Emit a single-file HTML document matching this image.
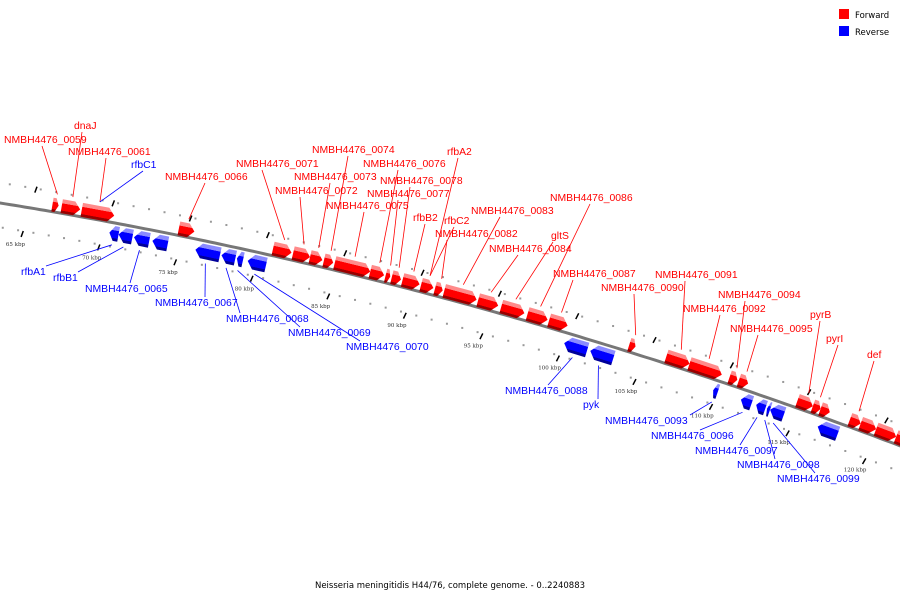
<!DOCTYPE html>
<html><head><meta charset="utf-8"><style>
html,body{margin:0;padding:0;background:#fff;}
svg{display:block;}
.lbl{font-family:"Liberation Sans",sans-serif;font-size:10.4px;}
</style></head><body>
<svg id="c" width="900" height="600" viewBox="0 0 900 600" xmlns="http://www.w3.org/2000/svg">
<defs id="defs"></defs>
<g id="ticks"></g>
<g id="backbone"></g>
<g id="leaders"></g>
<g id="genes"></g>
<g id="labels"></g>
<g>
<rect x="839" y="9" width="10" height="10" fill="#f00"/>
<text x="855" y="18" font-family="DejaVu Sans,sans-serif" font-size="8.5">Forward</text>
<rect x="839" y="26" width="10" height="10" fill="#00f"/>
<text x="855" y="35" font-family="DejaVu Sans,sans-serif" font-size="8.5">Reverse</text>
</g>
<text x="450" y="588" text-anchor="middle" font-family="DejaVu Sans,sans-serif" font-size="8.5">Neisseria meningitidis H44/76, complete genome. - 0..2240883</text>
</svg>
<script>
// gene data (kbp start, kbp end, strand)
const geneStart=[66.9,67.5,68.8,75.1,81.2,82.5,83.6,84.5,85.2,87.5,88.5,88.9,89.6,90.8,91.7,92.3,94.5,96.0,97.7,99.1,104.3,106.7,108.2,110.8,111.4,115.2,116.2,116.7,118.6,119.3,120.3,121.6,
70.8,71.4,72.4,73.6,76.4,78.1,79.1,79.8,100.4,102.1,110.1,111.9,112.9,113.6,113.8,116.9];
const geneEnd=[67.3,68.7,70.9,76.1,82.4,83.6,84.4,85.1,87.5,88.4,88.8,89.5,90.7,91.6,92.2,94.4,95.8,97.5,99.0,100.3,104.7,108.2,110.3,111.3,112.0,116.2,116.7,117.3,119.3,120.3,121.6,123.0,
71.4,72.3,73.4,74.6,78.0,79.0,79.5,81.0,101.9,103.6,110.4,112.6,113.5,113.8,114.7,118.2];
const geneStrand=[1,1,1,1,1,1,1,1,1,1,1,1,1,1,1,1,1,1,1,1,1,1,1,1,1,1,1,1,1,1,1,1,
-1,-1,-1,-1,-1,-1,-1,-1,-1,-1,-1,-1,-1,-1,-1,-1];
const tickKbp=[65,70,75,80,85,90,95,100,105,110,115,120];
const tickLabels=["65 kbp","70 kbp","75 kbp","80 kbp","85 kbp","90 kbp","95 kbp","100 kbp","105 kbp","110 kbp","115 kbp","120 kbp"];
const labelNames=["NMBH4476_0059","dnaJ","NMBH4476_0061","NMBH4476_0066","NMBH4476_0071","NMBH4476_0072","NMBH4476_0073","NMBH4476_0074","NMBH4476_0075","NMBH4476_0076","NMBH4476_0077","NMBH4476_0078","rfbB2","rfbC2","NMBH4476_0082","NMBH4476_0083","NMBH4476_0084","gltS","NMBH4476_0086","NMBH4476_0087","NMBH4476_0090","NMBH4476_0091","NMBH4476_0092","NMBH4476_0094","NMBH4476_0095","pyrB","pyrI","def","rfbA2","rfbC1",
"rfbA1","rfbB1","NMBH4476_0065","NMBH4476_0067","NMBH4476_0068","NMBH4476_0069","NMBH4476_0070","NMBH4476_0088","pyk","NMBH4476_0093","NMBH4476_0096","NMBH4476_0097","NMBH4476_0098","NMBH4476_0099"];
const labelGene=[0,1,2,3,4,5,6,7,8,9,10,11,12,13,14,15,16,17,18,19,20,21,22,23,24,25,26,28,13,2,
32,33,34,36,37,38,39,40,41,42,43,44,45,46];
const labelX=[4,74,68,165,236,275,294,312,326,363,367,380,413,444,435,471,489,551,550,553,601,655,683,718,730,810,826,867,447,131,
21,53,85,155,226,288,346,505,583,605,651,695,737,777];
const labelY=[143,129,155,180,167,194,180,153,209,167,197,184,221,224,237,214,252,239,201,277,291,278,312,298,332,318,342,358,155,168,
275,281,292,306,322,336,350,394,408,424,439,454,468,482];
const labelAnchor=[42,82,106,205,262,300,330,348,364,398,398,410,425,454,447,500,518,553,590,573,634,685,720,745,758,820,838,874,458,143,
46,78,130,205,240,300,360,548,598,690,700,740,775,815];

const NS="http://www.w3.org/2000/svg";
function X(k){return 22+(k-65)*15.4;}
function Y(x){return 203+0.16*x+0.000122*x*x;}
function pt(k,off){const x=X(k);const d=0.16+2*0.000122*x;const L=Math.hypot(1,d);const nx=-d/L,ny=1/L;return [x+nx*off,Y(x)+ny*off];}
function mk(tag,attrs,parent){const e=document.createElementNS(NS,tag);for(const a in attrs)e.setAttribute(a,attrs[a]);parent.appendChild(e);return e;}

const bb=document.getElementById('backbone');
let d="";for(let x=-5;x<=905;x+=5){d+=(x===-5?"M":"L")+x+","+Y(x).toFixed(1);}
const bl=mk('path',{d:d,stroke:'#777',"stroke-width":3,fill:'none'},bb);



const tg=document.getElementById('ticks');
for(let k=63;k<=125;k++){
  [[-20],[24]].forEach(o=>{const p=pt(k,o[0]);const c=mk('rect',{x:p[0]-1,y:p[1]-1,width:2,height:2,fill:'#999'},tg);
  
  });
}
tickKbp.forEach((k,i)=>{
  [[-19,0.7],[27,0.3]].forEach(o=>{const a=pt(k+o[1],o[0]-3),b=pt(k+o[1],o[0]+3);
   const l=mk('line',{x1:a[0]+0.6,y1:a[1],x2:b[0]-0.6,y2:b[1],stroke:'#000','stroke-width':1.5},tg);
   
   });
  const p=pt(k,40);
  const t=mk('text',{x:p[0],y:p[1],'text-anchor':'middle','font-family':'DejaVu Serif,serif','font-size':'5.5',fill:'#333'},tg);
  t.textContent=tickLabels[i];
  
  
});

const gg=document.getElementById('genes'),defs=document.getElementById('defs');
geneStart.forEach((s,i)=>{
  const e=geneEnd[i],st=geneStrand[i];
  const a=st>0?-14:3,b=st>0?0:18,m=(a+b)/2;
  const lenpx=(e-s)*15.4;const h=Math.min(6,lenpx/2)/15.4;
  let pts;
  if(st>0){pts=[pt(s,a),pt(e-h,a),pt(e,m),pt(e-h,b),pt(s,b)];}
  else{pts=[pt(e,a),pt(s+h,a),pt(s,m),pt(s+h,b),pt(e,b)];}
  const ga=pt((s+e)/2,a),gb=pt((s+e)/2,b);
  const id='g'+i;
  const gr=mk('linearGradient',{id:id,gradientUnits:'userSpaceOnUse',x1:ga[0],y1:ga[1],x2:gb[0],y2:gb[1]},defs);
  const c1=st>0?'#ff8a8a':'#8a8aff',c2=st>0?'#f00':'#00f',c3=st>0?'#900':'#009';
  [[0,c1],[0.28,c1],[0.3,c2],[0.8,c2],[0.82,c3],[1,c3]].forEach(q=>mk('stop',{offset:q[0],'stop-color':q[1]},gr));
  const pg=mk('polygon',{points:pts.map(p=>p[0].toFixed(1)+","+p[1].toFixed(1)).join(" "),fill:'url(#'+id+')'},gg);
  
  
});

const lg=document.getElementById('labels'),ld=document.getElementById('leaders');
labelNames.forEach((n,i)=>{
  const gi=labelGene[i],st=geneStrand[gi];
  const col=(n==='rfbC1'||i>=30)?'#00f':'#f00';
  const k=(geneStart[gi]+geneEnd[gi])/2;
  const blue=col==='#00f';
  const gp=pt(k,(blue&&st<0)?22:-18);
  const ly=blue&&i>=30?labelY[i]-9:labelY[i]+3;
  const l=mk('line',{x1:labelAnchor[i],y1:ly,x2:gp[0],y2:gp[1],stroke:col,'stroke-width':0.8},ld);
  
  
  const t=mk('text',{x:labelX[i],y:labelY[i],fill:col,class:'lbl'},lg);
  t.textContent=n;
  
  
});
</script>
</body></html>
